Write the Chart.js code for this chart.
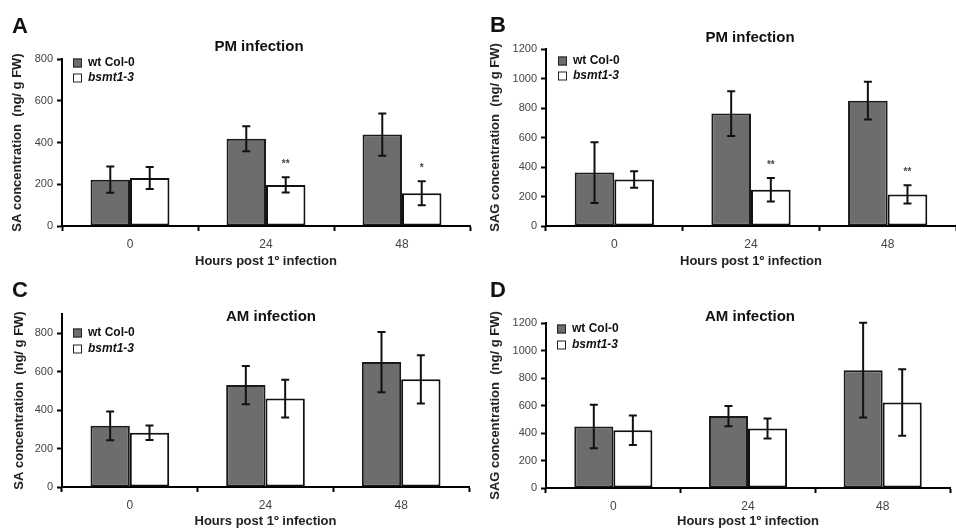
<!DOCTYPE html>
<html><head><meta charset="utf-8">
<script src="https://cdn.jsdelivr.net/npm/chart.js@4/dist/chart.umd.min.js"></script>
<style>
html,body{margin:0;padding:0;background:#fff;width:956px;height:528px;overflow:hidden;position:relative;}
canvas{position:absolute;}
</style></head><body>
<canvas id="cA" style="left:0;top:0" width="478" height="270"></canvas>
<canvas id="cB" style="left:478px;top:0" width="478" height="270"></canvas>
<canvas id="cC" style="left:0;top:264px" width="478" height="264"></canvas>
<canvas id="cD" style="left:478px;top:264px" width="478" height="264"></canvas>
<script>
// ---- data ----
const categories = ['0', '24', '48'];
const seriesNames = ['wt Col-0', 'bsmt1-3'];
const xAxisTitle = 'Hours post 1º infection';

// A: SA, PM infection
const saPM_wt = [222, 418, 438];
const saPM_wtErr = [63, 60, 101];
const saPM_bs = [230, 197, 157];
const saPM_bsErr = [53, 37, 57];
const saPM_sig = ['', '**', '*'];

// B: SAG, PM infection
const sagPM_wt = [362, 762, 850];
const sagPM_wtErr = [206, 151, 128];
const sagPM_bs = [315, 246, 214];
const sagPM_bsErr = [56, 80, 62];
const sagPM_sig = ['', '**', '**'];

// C: SA, AM infection
const saAM_wt = [318, 530, 650];
const saAM_wtErr = [75, 100, 157];
const saAM_bs = [282, 460, 560];
const saAM_bsErr = [38, 98, 125];
const saAM_sig = ['', '', ''];

// D: SAG, AM infection
const sagAM_wt = [447, 523, 857];
const sagAM_wtErr = [158, 73, 345];
const sagAM_bs = [420, 433, 622];
const sagAM_bsErr = [108, 73, 242];
const sagAM_sig = ['', '', ''];

const yMaxA = 800, yMaxB = 1200, yMaxC = 900, yMaxD = 1200;
const yStep = 200;

const FONT = '"Liberation Sans", Arial, sans-serif';

const errPlugin = {
  id: 'errbars',
  afterDatasetsDraw(chart) {
    const ctx = chart.ctx, y = chart.scales.y;
    chart.data.datasets.forEach((ds, di) => {
      const meta = chart.getDatasetMeta(di);
      meta.data.forEach((bar, i) => {
        const v = ds.data[i], e = ds.errors[i];
        const x = bar.x;
        const yt = y.getPixelForValue(v + e), yb = y.getPixelForValue(v - e);
        ctx.save();
        ctx.strokeStyle = '#111';
        ctx.lineWidth = 2;
        ctx.beginPath();
        ctx.moveTo(x, yt); ctx.lineTo(x, yb);
        ctx.moveTo(x - 4, yt); ctx.lineTo(x + 4, yt);
        ctx.moveTo(x - 4, yb); ctx.lineTo(x + 4, yb);
        ctx.stroke();
        if (ds.sig && ds.sig[i]) {
          ctx.fillStyle = '#444';
          ctx.font = 'bold 10px ' + FONT;
          ctx.textAlign = 'center';
          ctx.textBaseline = 'middle';
          ctx.fillText(ds.sig[i], x, yt - 13);
        }
        ctx.restore();
      });
    });
  }
};

const decorPlugin = {
  id: 'decor',
  afterDraw(chart, args, o) {
    const ctx = chart.ctx;
    ctx.save();
    ctx.fillStyle = '#111';
    ctx.font = 'bold 22px ' + FONT;
    ctx.textAlign = 'left';
    ctx.textBaseline = 'alphabetic';
    ctx.fillText(o.letter, o.letterX, o.letterY);
    ctx.font = 'bold 15px ' + FONT;
    ctx.textAlign = 'center';
    ctx.textBaseline = 'middle';
    ctx.fillText(o.title, o.titleX, o.titleY);
    chart.data.datasets.forEach((ds, i) => {
      const yy = o.legendY + i * o.legendGap;
      ctx.fillStyle = ds.backgroundColor;
      ctx.fillRect(o.legendX, yy - 4.5, 9, 9);
      ctx.strokeStyle = '#222';
      ctx.lineWidth = 1;
      ctx.strokeRect(o.legendX + 0.5, yy - 4, 8, 8);
      ctx.fillStyle = '#111';
      ctx.font = (i === 1 ? 'italic ' : '') + 'bold 12px ' + FONT;
      ctx.textAlign = 'left';
      ctx.textBaseline = 'middle';
      ctx.fillText(ds.label, o.legendX + 15, yy);
    });
    ctx.restore();
  }
};

function makeChart(id, wt, wtErr, bs, bsErr, sig, yMax, yLabel, area, deco) {
  const el = document.getElementById(id);
  const W = el.width, H = el.height;
  return new Chart(el, {
    type: 'bar',
    data: {
      labels: categories,
      datasets: [
        { label: seriesNames[0], data: wt, errors: wtErr, backgroundColor: '#6d6d6d', borderColor: '#1a1a1a', borderWidth: 2, borderSkipped: false },
        { label: seriesNames[1], data: bs, errors: bsErr, sig: sig, backgroundColor: '#ffffff', borderColor: '#111', borderWidth: 2, borderSkipped: false }
      ]
    },
    options: {
      responsive: false,
      animation: false,
      events: [],
      layout: { padding: { left: 0, top: area.T, right: W - area.R, bottom: 0 } },
      datasets: { bar: { categoryPercentage: 0.58, barPercentage: 1 } },
      plugins: { legend: { display: false }, title: { display: false }, tooltip: { enabled: false }, decor: deco },
      scales: {
        x: {
          grid: { offset: true, drawOnChartArea: false, drawTicks: true, tickLength: 5, tickWidth: 2, tickColor: '#000' },
          border: { display: true, width: 2, color: '#000' },
          ticks: { color: '#444', font: { family: FONT, size: 12 }, padding: 6, maxRotation: 0 },
          title: { display: true, text: xAxisTitle, color: '#222', font: { family: FONT, size: 13, weight: 'bold', lineHeight: 1 }, padding: { top: 0, bottom: area.xtp } },
          afterFit(s) { s.height = H - area.B; }
        },
        y: {
          min: 0, max: yMax,
          ticks: { stepSize: yStep, includeBounds: false, color: '#444', font: { family: FONT, size: 11 }, padding: 4,
                   callback: (v) => String(v) },
          grid: { drawOnChartArea: false, drawTicks: true, tickLength: 5, tickWidth: 2, tickColor: '#000' },
          border: { display: true, width: 2, color: '#000' },
          title: { display: true, text: yLabel, color: '#222', font: { family: FONT, size: 13, weight: 'bold', lineHeight: 1.2 }, padding: { top: area.ytp, bottom: 0 } },
          afterFit(s) { s.width = area.L; }
        }
      }
    },
    plugins: [errPlugin, decorPlugin]
  });
}

makeChart('cA', saPM_wt, saPM_wtErr, saPM_bs, saPM_bsErr, saPM_sig, yMaxA, 'SA concentration  (ng/ g FW)',
  { L: 62, R: 470, T: 59, B: 226, xtp: 2, ytp: 10 },
  { letter: 'A', letterX: 12, letterY: 33, title: 'PM infection', titleX: 259, titleY: 47, legendX: 73, legendY: 63, legendGap: 15 });
makeChart('cB', sagPM_wt, sagPM_wtErr, sagPM_bs, sagPM_bsErr, sagPM_sig, yMaxB, 'SAG concentration  (ng/ g FW)',
  { L: 68, R: 478, T: 49, B: 226, xtp: 2, ytp: 10 },
  { letter: 'B', letterX: 12, letterY: 32, title: 'PM infection', titleX: 272, titleY: 38, legendX: 80, legendY: 61, legendGap: 15 });
makeChart('cC', saAM_wt, saAM_wtErr, saAM_bs, saAM_bsErr, saAM_sig, yMaxC, 'SA concentration  (ng/ g FW)',
  { L: 62, R: 469, T: 50, B: 223, xtp: 0, ytp: 12 },
  { letter: 'C', letterX: 12, letterY: 33, title: 'AM infection', titleX: 271, titleY: 53, legendX: 73, legendY: 69, legendGap: 16 });
makeChart('cD', sagAM_wt, sagAM_wtErr, sagAM_bs, sagAM_bsErr, sagAM_sig, yMaxD, 'SAG concentration  (ng/ g FW)',
  { L: 68, R: 472, T: 59, B: 224, xtp: 0, ytp: 10 },
  { letter: 'D', letterX: 12, letterY: 33, title: 'AM infection', titleX: 272, titleY: 53, legendX: 79, legendY: 65, legendGap: 16 });
</script>
</body></html>
